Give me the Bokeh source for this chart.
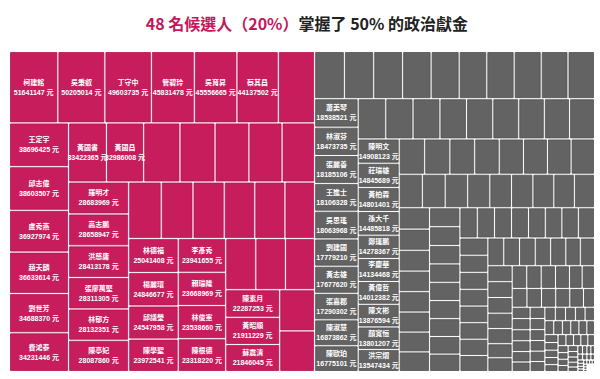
from bokeh.plotting import figure
from bokeh.models import Range1d, ColumnDataSource, Label
from bokeh.core.properties import value
from bokeh.embed import file_html
from bokeh.resources import INLINE

# ---------------- data ----------------
title_hi = "48 名候選人（20%）"
title_rest = "掌握了 50% 的政治獻金"

# top 48 candidates (pink) – '' = no label shown
top_names = ["柯建銘", "吳秉叡", "丁守中", "管碧玲", "吳育昇", "蔡其昌", "",
             "王定宇", "邱志偉", "盧秀燕", "趙天麟", "劉世芳", "費鴻泰",
             "黃國書", "黃國昌", "", "", "", "", "",
             "羅明才", "高志鵬", "洪慈庸", "張廖萬堅", "林郁方", "陳亭妃",
             "", "", "", "", "", "",
             "林德福", "楊麗環", "邱議瑩", "陳學聖",
             "李彥秀", "賴瑞隆", "林俊憲", "陳根德",
             "", "", "",
             "陳素月", "黃昭順", "蘇震清",
             "", ""]
top_amounts = [51641147, 50205014, 49603735, 45831478, 45556665, 44137502, 38800000,
               38696425, 38603507, 36927974, 36633614, 34688370, 34231446,
               33422365, 32986008, 32100000, 31000000, 30000000, 29300000, 28800000,
               28683969, 28658947, 28413178, 28311305, 28132351, 28087860,
               27500000, 26900000, 26400000, 25900000, 25500000, 25100000,
               25041408, 24846677, 24547958, 23972541,
               23941655, 23668969, 23538660, 23318220,
               23000000, 22600000, 22350000,
               22287253, 21911229, 21846045,
               21500000, 21200000]

# remaining 192 candidates (grey); amounts in millions
rest_labeled = {10: "蕭美琴", 11: "林淑芬", 12: "張麗善", 13: "王進士", 14: "吳思瑤",
                15: "劉建國", 16: "黃志雄", 17: "張嘉郡", 18: "陳淑慧", 19: "陳歐珀",
                29: "陳明文", 30: "莊瑞雄", 31: "黃柏霖", 32: "孫大千", 33: "鄭運鵬",
                34: "李慶華", 35: "黃偉哲", 36: "陳文彬", 37: "顏寬恒", 38: "洪宗熠"}
rest_amounts_m = [
    21.0, 20.7, 20.4, 20.1, 19.8, 19.5, 19.3, 19.1, 18.9, 18.7,
    18.538521, 18.473735, 18.185106, 18.106328, 18.063968,
    17.779210, 17.677620, 17.290302, 16.873862, 16.775101,
    16.6, 16.4, 16.2, 16.0, 15.8, 15.6, 15.4, 15.2, 15.0,
    14.908123, 14.845689, 14.801401, 14.485818, 14.278367,
    14.134468, 14.012382, 13.876594, 13.801207, 13.547434,
    13.45, 13.3, 13.1, 12.95, 12.8, 12.65, 12.5, 12.35,
    11.6, 11.45, 11.3, 11.1, 10.9, 10.7, 10.5, 10.3, 10.1,
    9.7, 9.6, 9.45, 9.35, 9.25, 9.1, 9.0, 8.9,
    8.6, 8.5, 8.4, 8.35, 8.3, 8.2, 8.1, 8.0, 7.9,
    7.85, 7.8, 7.7, 7.65, 7.6, 7.5, 7.45,
    7.3, 7.2, 7.15, 7.1, 7.0, 6.95, 6.9, 6.8,
    6.7, 6.6, 6.55, 6.5, 6.4, 6.3,
    6.0, 5.9, 5.8, 5.75, 5.7, 5.6, 5.5,
    5.1, 5.0, 4.95, 4.9, 4.85, 4.75,
    4.3, 4.2, 4.15, 4.1, 4.0, 3.95, 3.85,
    3.1, 3.05, 3.0, 2.95, 2.9, 2.8,
    2.55, 2.5, 2.45, 2.4, 2.35, 2.3, 2.2,
    2.1, 2.05, 2.0, 1.95, 1.9, 1.85, 1.8, 1.75, 1.7, 1.65,
    1.6, 1.55, 1.5, 1.45, 1.4, 1.35, 1.3, 1.25, 1.2,
    1.15, 1.1, 1.05, 1.0, 0.95, 0.9, 0.85, 0.8, 0.75, 0.7, 0.65, 0.6,
    0.55, 0.5, 0.46, 0.42, 0.38, 0.35, 0.32, 0.29,
    0.26, 0.24, 0.22, 0.2, 0.18, 0.16,
    0.15, 0.14, 0.13, 0.12, 0.11, 0.1, 0.09, 0.08, 0.07, 0.06, 0.05,
    0.045, 0.04, 0.035, 0.03, 0.025, 0.02, 0.015, 0.01, 0.005]
rest_amounts = [round(v * 1e6) for v in rest_amounts_m]
rest_names = [rest_labeled.get(i, "") for i in range(len(rest_amounts))]

PINK = "#c71d5d"
PINK_EDGE = "#b0164f"
GREY = "#636363"
GREY_EDGE = "#505050"

# ---------------- squarified treemap (d3 algorithm) ----------------
PHI = (1 + 5 ** 0.5) / 2


def squarify(vals, x0, y0, x1, y1, ratio=PHI):
    rects = []
    n = len(vals)
    total = float(sum(vals))
    i0 = i1 = 0
    while i0 < n:
        dx, dy = x1 - x0, y1 - y0
        s = float(vals[i1]); i1 += 1
        mn = mx = s
        alpha = max(dy / dx, dx / dy) / (total * ratio)
        beta = s * s * alpha
        min_ratio = max(mx / beta, beta / mn)
        while i1 < n:
            v = float(vals[i1])
            s2 = s + v
            mn2, mx2 = min(mn, v), max(mx, v)
            beta = s2 * s2 * alpha
            nr = max(mx2 / beta, beta / mn2)
            if nr > min_ratio:
                break
            s, mn, mx, min_ratio = s2, mn2, mx2, nr
            i1 += 1
        row = vals[i0:i1]
        if dx < dy:
            ny = y0 + dy * s / total
            xx = x0
            for v in row:
                w = dx * v / s
                rects.append((xx, y0, xx + w, ny))
                xx += w
            y0 = ny
        else:
            nx = x0 + dx * s / total
            yy = y0
            for v in row:
                h = dy * v / s
                rects.append((x0, yy, nx, yy + h))
                yy += h
            x0 = nx
        total -= s
        i0 = i1
    return rects


W, H = 600, 379
X0, Y0, X1, Y1 = 9.0, 51.0, 594.0, 371.0

groups = [(top_names, top_amounts, PINK, PINK_EDGE),
          (rest_names, rest_amounts, GREY, GREY_EDGE)]
group_rects = squarify([sum(g[1]) for g in groups], X0, Y0, X1, Y1)

L, R, T, B, FC, LC = [], [], [], [], [], []
lx, ly_name, ly_val, lname, lval = [], [], [], [], []
for (names, amts, fc, lc), (gx0, gy0, gx1, gy1) in zip(groups, group_rects):
    for nm, a, (x0, y0, x1, y1) in zip(names, amts, squarify(amts, gx0, gy0, gx1, gy1)):
        if x1 - x0 < 2.2 or y1 - y0 < 2.2:
            continue
        L.append(x0 + 1); R.append(x1 - 1); T.append(y0 + 1); B.append(y1 - 1)
        FC.append(fc); LC.append(lc)
        if nm:
            cx, cy = (x0 + x1) / 2, (y0 + y1) / 2
            lx.append(cx); ly_name.append(cy - 5); ly_val.append(cy + 5)
            lname.append(nm); lval.append(f"{a} 元")

p = figure(width=W, height=H, output_backend="svg", toolbar_location=None,
           x_range=Range1d(0, W), y_range=Range1d(H, 0), min_border=0)
p.axis.visible = False
p.grid.visible = False
p.outline_line_color = None
p.background_fill_color = "white"

p.quad(left="l", right="r", top="t", bottom="b", fill_color="fc", line_color="lc",
       line_width=0.8, source=ColumnDataSource(dict(l=L, r=R, t=T, b=B, fc=FC, lc=LC)))

lab_font = value("Liberation Sans, Noto Sans CJK TC")
p.text(x=lx, y=ly_name, text=lname, text_color="white", text_font=lab_font,
       text_font_size="7px", text_font_style="bold", text_align="center",
       text_baseline="middle")
p.text(x=lx, y=ly_val, text=lval, text_color="white", text_font=lab_font,
       text_font_size="7px", text_font_style="bold", text_align="center",
       text_baseline="middle")

title_font = "Noto Sans CJK TC"
split_x = 298
p.add_layout(Label(x=split_x, y=22, text=title_hi, text_color="#c2185b",
                   text_font=title_font, text_font_size="16px", text_font_style="bold",
                   text_align="right", text_baseline="middle"))
p.add_layout(Label(x=split_x, y=22, text=title_rest, text_color="#222222",
                   text_font=title_font, text_font_size="16px", text_font_style="bold",
                   text_align="left", text_baseline="middle"))

open("out.html", "w").write(file_html(p, INLINE))
